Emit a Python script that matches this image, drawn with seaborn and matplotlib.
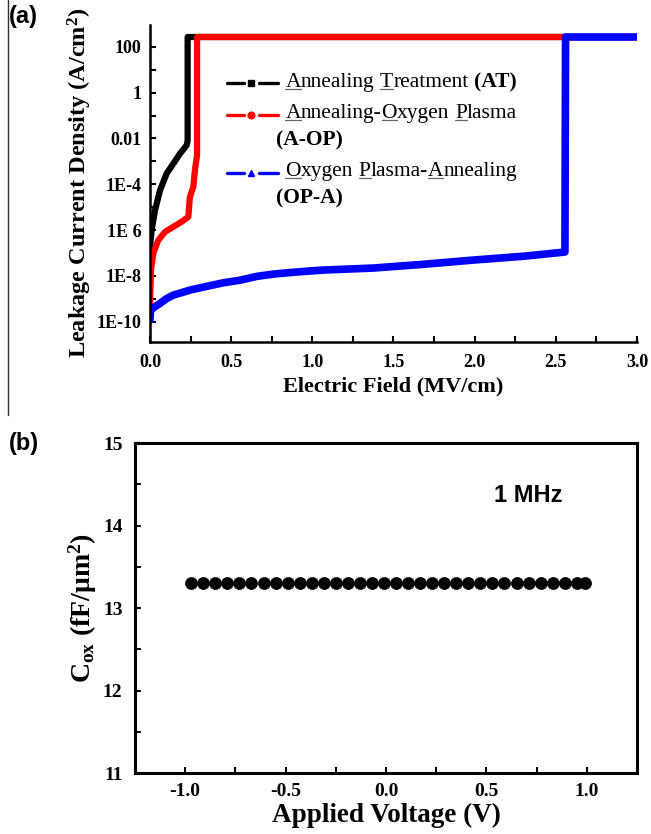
import matplotlib
matplotlib.use('Agg')
import matplotlib.pyplot as plt
import seaborn as sns
import pandas as pd
from matplotlib.lines import Line2D
from matplotlib.offsetbox import AnchoredOffsetbox, DrawingArea, HPacker, TextArea, VPacker
from matplotlib.ticker import (FixedLocator, FixedFormatter, MultipleLocator,
                               FormatStrFormatter, NullFormatter)

# ===== DATA =====
# (a) leakage current density vs electric field
at_field = [0.0, 0.003, 0.010, 0.031, 0.062, 0.103, 0.144, 0.185, 0.226, 0.232, 0.232, 3.0]
at_current = [4e-8, 3e-7, 1e-6, 7.4e-6, 5.5e-5, 3e-4, 8e-4, 2.2e-3, 5.1e-3, 8e-3, 270, 270]

aop_field = [0.0, 0.003, 0.006, 0.021, 0.051, 0.092, 0.144, 0.195, 0.236, 0.246,
             0.267, 0.277, 0.287, 0.29, 0.29, 3.0]
aop_current = [4.5e-10, 3e-9, 1.8e-8, 1e-7, 3.6e-7, 8.3e-7, 1.4e-6, 2.3e-6, 3.8e-6, 2.8e-5,
               7.8e-5, 4.2e-4, 1.35e-3, 1.8e-3, 270, 270]

opa_field = [0.0, 0.003, 0.02, 0.062, 0.10, 0.144, 0.20, 0.246, 0.35, 0.452, 0.555, 0.657,
             0.76, 0.863, 0.966, 1.067, 1.375, 1.683, 1.99, 2.30, 2.556, 2.56, 3.0]
opa_current = [1.2e-10, 3.2e-10, 4e-10, 6.3e-10, 1e-9, 1.45e-9, 1.9e-9, 2.4e-9, 3.5e-9, 5e-9,
               6.5e-9, 9.5e-9, 1.2e-8, 1.4e-8, 1.6e-8, 1.8e-8, 2.2e-8, 3.2e-8, 4.9e-8, 7.2e-8,
               1.1e-7, 270, 270]

ytick_vals = [1e-10, 1e-8, 1e-6, 1e-4, 1e-2, 1, 100]
ytick_labels = ['1E-10', '1E-8', '1E 6', '1E-4', '0.01', '1', '100']

# legend text: "_X" marks an underlined initial
leg_names = ['_Annealing _Treatment', '_Annealing-_Oxygen _Plasma', '_Oxygen _Plasma-_Annealing']
leg_abbr = ['(AT)', '(A-OP)', '(OP-A)']
leg_colors = ['black', 'red', 'blue']
leg_markers = ['s', 'o', '^']

# (b) oxide capacitance vs applied voltage at 1 MHz
bias = [-0.97, -0.91, -0.85, -0.79, -0.73, -0.67, -0.61, -0.55, -0.49, -0.43, -0.37, -0.31,
        -0.25, -0.19, -0.13, -0.07, -0.01, 0.05, 0.11, 0.17, 0.23, 0.29, 0.35, 0.41,
        0.47, 0.53, 0.59, 0.65, 0.71, 0.77, 0.83, 0.89, 0.95, 0.99]
cox = [13.3, 13.3, 13.3, 13.3, 13.3, 13.3, 13.3, 13.3, 13.3, 13.3, 13.3, 13.3,
       13.3, 13.3, 13.3, 13.3, 13.3, 13.3, 13.3, 13.3, 13.3, 13.3, 13.3, 13.3,
       13.3, 13.3, 13.3, 13.3, 13.3, 13.3, 13.3, 13.3, 13.3, 13.3]

# ===== STYLE =====
sns.set_theme(style='ticks')
plt.rcParams['font.family'] = ['Liberation Serif', 'DejaVu Serif']
plt.rcParams['font.weight'] = 'bold'
plt.rcParams['mathtext.fontset'] = 'custom'
plt.rcParams['mathtext.rm'] = 'Liberation Serif'
plt.rcParams['mathtext.bf'] = 'Liberation Serif:bold'
plt.rcParams['mathtext.it'] = 'Liberation Serif:italic'
plt.rcParams['axes.unicode_minus'] = False
plt.rcParams.update({'text.color': 'black', 'axes.labelcolor': 'black',
                     'xtick.color': 'black', 'ytick.color': 'black',
                     'axes.edgecolor': 'black'})

fig = plt.figure(figsize=(6.51, 8.34), dpi=100)
ax_a = fig.add_axes([0.2304, 0.5903, 0.7481, 0.3797])
ax_b = fig.add_axes([0.2074, 0.0731, 0.7711, 0.3957])

# ===== PANEL (a) =====
curves = [
    (at_field, at_current, 'black', 4.5),
    (aop_field, aop_current, 'red', 4.5),
    (opa_field, opa_current, 'blue', 5.5),
]
for fld, cur, col, lw in curves:
    df = pd.DataFrame({'E': fld, 'J': cur})
    sns.lineplot(data=df, x='E', y='J', ax=ax_a, color=col, lw=lw,
                 sort=False, estimator=None)

ax_a.set_yscale('log')
ax_a.set_xlim(0, 3.0)
ax_a.set_ylim(1.34e-11, 900)
ax_a.yaxis.set_major_locator(FixedLocator(ytick_vals))
ax_a.yaxis.set_major_formatter(FixedFormatter(ytick_labels))
ax_a.yaxis.set_minor_locator(FixedLocator([1e-9, 1e-7, 1e-5, 1e-3, 1e-1, 10]))
ax_a.yaxis.set_minor_formatter(NullFormatter())
ax_a.xaxis.set_major_locator(MultipleLocator(0.5))
ax_a.xaxis.set_minor_locator(MultipleLocator(0.25))
ax_a.xaxis.set_major_formatter(FormatStrFormatter('%.1f'))
ax_a.tick_params(which='both', direction='in', length=4, width=1.5, labelsize=13)
ax_a.tick_params(axis='y', pad=6)
ax_a.tick_params(axis='x', pad=9)
ax_a.spines[['top', 'right']].set_visible(False)
for s in ['left', 'bottom']:
    ax_a.spines[s].set_linewidth(1.8)
ax_a.set_xlabel('Electric Field (MV/cm)', fontsize=16, fontweight='bold', labelpad=4)
ax_a.set_ylabel(r'Leakage Current Density (A/cm$^{\mathbf{2}}$)', fontsize=17.5,
                fontweight='bold', labelpad=2)

# legend with underlined initials and bold abbreviations
LEG_FS = 15.5
underlined = []


def legend_handle(color, marker):
    da = DrawingArea(38, 10, 0, 0)
    da.add_artist(Line2D([0, 12], [4, 4], color=color, lw=2.4))
    da.add_artist(Line2D([23, 37], [4, 4], color=color, lw=2.4))
    da.add_artist(Line2D([17.5], [4], marker=marker, ms=4.8, color=color, ls='none'))
    return da


def words_of(text, weight):
    words = []
    for w in text.split(' '):
        segs, buf, i = [], '', 0
        while i < len(w):
            if w[i] == '_':
                if buf:
                    segs.append((buf, False))
                    buf = ''
                segs.append((w[i + 1], True))
                i += 2
            else:
                buf += w[i]
                i += 1
        if buf:
            segs.append((buf, False))
        tas = []
        for s, ul in segs:
            ta = TextArea(s, textprops=dict(fontsize=LEG_FS, fontweight=weight, color='black'))
            tas.append(ta)
            if ul:
                underlined.append(ta)
        words.append(HPacker(children=tas, sep=0, align='baseline'))
    return words


rows = []
for i, (name, abbr) in enumerate(zip(leg_names, leg_abbr)):
    handle = legend_handle(leg_colors[i], leg_markers[i])
    if i == 0:
        line = HPacker(children=words_of(name, 'normal') + words_of(abbr, 'bold'),
                       sep=4, align='baseline')
        rows.append(HPacker(children=[handle, line], sep=4, align='center'))
    else:
        line = HPacker(children=words_of(name, 'normal'), sep=4, align='baseline')
        first = HPacker(children=[handle, line], sep=4, align='center')
        second = HPacker(children=[DrawingArea(35, 2, 0, 0)] + words_of(abbr, 'bold'),
                         sep=0, align='center')
        rows.append(VPacker(children=[first, second], sep=5.5, align='left'))
box = VPacker(children=rows, sep=8.5, align='left')
anchored = AnchoredOffsetbox(loc='upper left', child=box, pad=0, borderpad=0, frameon=False,
                             bbox_to_anchor=(227 / 651, 1 - 72 / 834),
                             bbox_transform=fig.transFigure)
ax_a.add_artist(anchored)

# ===== PANEL (b) =====
sns.scatterplot(x=bias, y=cox, ax=ax_b, color='black', s=75, edgecolor='black',
                linewidth=0.5, marker='o')
ax_b.set_xlim(-1.25, 1.25)
ax_b.set_ylim(11, 15)
ax_b.xaxis.set_major_locator(MultipleLocator(0.5))
ax_b.xaxis.set_minor_locator(MultipleLocator(0.25))
ax_b.xaxis.set_major_formatter(FormatStrFormatter('%.1f'))
ax_b.yaxis.set_major_locator(MultipleLocator(1))
ax_b.yaxis.set_minor_locator(MultipleLocator(0.5))
ax_b.tick_params(which='both', direction='in', length=4, width=1.5, labelsize=14)
ax_b.tick_params(axis='y', pad=9)
ax_b.tick_params(axis='x', pad=7)
for s in ax_b.spines.values():
    s.set_linewidth(2.2)
ax_b.set_xlabel('Applied Voltage (V)', fontsize=19.5, fontweight='bold', labelpad=2)
ax_b.set_ylabel(r'$\mathbf{C}_{\mathrm{ox}}$ (fF/μm$^{\mathbf{2}}$)', fontsize=20,
                fontweight='bold', labelpad=3)
ax_b.text(0.716, 0.842, '1 MHz', transform=ax_b.transAxes, fontsize=17, color='black',
          fontweight='bold', family='Liberation Sans', va='center', ha='left')

# panel tags and the page separator line
fig.text(0.014, 0.994, '(a)', fontsize=17, fontweight='bold', family='Liberation Sans',
         va='top', ha='left', color='black')
fig.text(0.014, 0.482, '(b)', fontsize=17, fontweight='bold', family='Liberation Sans',
         va='top', ha='left', color='black')
fig.add_artist(Line2D([0.012, 0.012], [1.0, 0.502], transform=fig.transFigure,
                      color='#333333', lw=1.0))

# underline the marked initials, measured from the laid-out legend text
fig.canvas.draw()
renderer = fig.canvas.get_renderer()
to_fig = fig.transFigure.inverted()
for ta in underlined:
    txt = ta._text
    bb = txt.get_window_extent(renderer)
    _, _, lp_d = renderer.get_text_width_height_descent('lp', txt.get_fontproperties(),
                                                        ismath=False)
    y = bb.y0 + lp_d - 2.0
    (x0, yf), (x1, _) = to_fig.transform([(bb.x0, y), (bb.x1, y)])
    fig.add_artist(Line2D([x0, x1], [yf, yf], transform=fig.transFigure,
                          color='#666666', lw=0.9))

fig.savefig('out.png', dpi=100)
